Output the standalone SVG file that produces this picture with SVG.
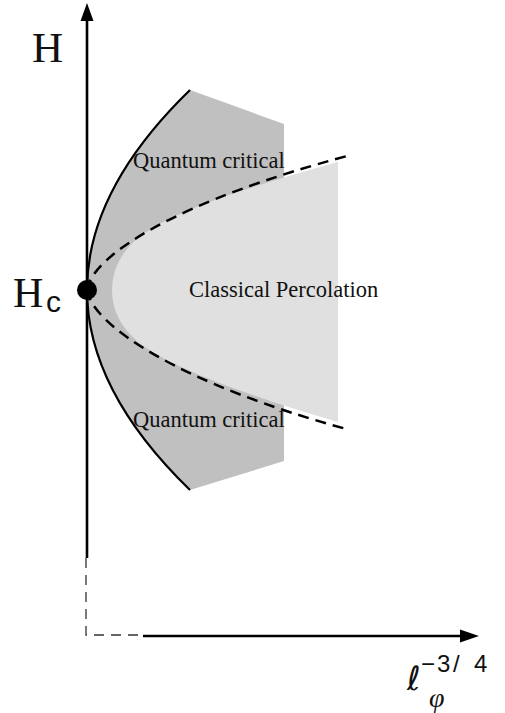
<svg xmlns="http://www.w3.org/2000/svg" width="505" height="713" viewBox="0 0 505 713">
<style>
.lbl{font-family:"Liberation Serif","Times New Roman",serif;fill:#111}
.sans{font-family:"Liberation Sans",Arial,sans-serif;fill:#111}
.axis{stroke:#000;stroke-width:2.6;fill:none}
.axdash{stroke:#333;stroke-width:1.3;fill:none;stroke-dasharray:10 7}
.dash{stroke:#000;stroke-width:2.5;fill:none;stroke-dasharray:11 7}
</style>
<rect width="505" height="713" fill="#fff"/>
<g id="quantum-region">
<path d="M190,90 Q87,190 87,290 Q87,390 190,490 L284,461 L284,124 Z" fill="#c0c0c0"/>
</g>
<g id="classical-region">
<path d="M338,162 C 250,186 170,212 138,238 Q 112,260 112,290 Q 112,320 138,342 C 170,368 250,396 338,422 Z" fill="#e0e0e0"/>
</g>
<g id="connectors">
<path d="M190,90 Q87,190 87,290 Q87,390 190,490" stroke="#000" stroke-width="2.2" fill="none"/>
<path class="dash" d="M87,290 C 92,255 180,200 351,155"/>
<path class="dash" d="M87,290 C 92,325 180,384 350,430"/>
<line class="axis" x1="87" y1="18" x2="87" y2="558"/>
<polygon points="87,3 80.5,21 93.5,21" fill="#000"/>
<polyline class="axdash" points="86,558 86,635 143,635"/>
<line class="axis" x1="143" y1="636" x2="462" y2="636"/>
<polygon points="479,636 460,629.5 460,642.5" fill="#000"/>
</g>
<g id="hc-point">
<circle cx="87" cy="290" r="10" fill="#000"/>
</g>
<g id="labels">
<text class="lbl" x="32" y="62" font-size="43">H</text>
<text class="lbl" x="13" y="307" font-size="42">H</text>
<text class="sans" x="46" y="312" font-size="30">c</text>
<text class="lbl" x="133" y="168" font-size="22.5">Quantum critical</text>
<text class="lbl" x="133" y="427" font-size="22.5">Quantum critical</text>
<text class="lbl" x="189" y="297" font-size="22.5">Classical Percolation</text>
<text x="407" y="690" font-size="33" font-style="italic" font-weight="200" font-family="'DejaVu Sans',sans-serif" fill="#111">ℓ</text>
<text class="lbl" x="429" y="707" font-size="28" font-style="italic">φ</text>
<text class="sans" y="672" font-size="24"><tspan x="421">−</tspan><tspan x="437">3</tspan><tspan x="453">/</tspan><tspan x="474">4</tspan></text>
</g>
</svg>
